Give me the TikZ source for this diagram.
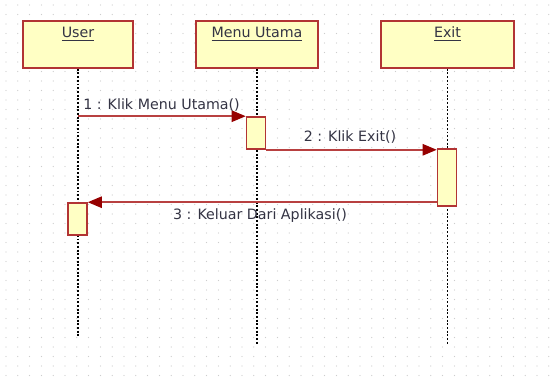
\documentclass[tikz,border=0pt]{standalone}
\usepackage{fontspec}
\setmainfont{DejaVu Sans}
\usepackage{tikz}
\usetikzlibrary{arrows.meta,positioning}

\definecolor{boxfill}{RGB}{255,255,196}
\definecolor{boxline}{RGB}{178,52,52}
\definecolor{msgline}{RGB}{184,64,64}
\definecolor{msghead}{RGB}{150,0,0}
\definecolor{txt}{RGB}{52,52,68}
\definecolor{griddot}{RGB}{205,205,205}

\begin{document}
\begin{tikzpicture}[x=0.02cm,y=-0.02cm]
\tikzstyle{every node}+=[inner sep=0pt,text=txt,font=\fontsize{8.1}{10}\selectfont]
\tikzstyle{head}=[draw=boxline,fill=boxfill,line width=0.9pt,minimum width=2.2cm,minimum height=0.94cm]
\tikzstyle{act}=[draw=boxline,fill=boxfill,line width=0.9pt,minimum width=0.38cm]
\tikzstyle{life}=[black,line width=0.9pt,dash pattern=on 1.1pt off 1pt]
\tikzstyle{msg}=[msgline,line width=0.85pt,-{Triangle[length=8pt,width=6.5pt,color=msghead]}]
\useasboundingbox (0,0) rectangle (551,378);
\fill [white] (0,0) rectangle (551,378);
% dotted canvas
\foreach \i in {0,...,46}
  \foreach \j in {0,...,39}
    \fill [griddot] (6+\i*11.8,5+\j*9.5) circle (0.35pt);
% heads
\node [head,label={[anchor=north,yshift=-0.13cm]north:\underline{User}}] (user) at (78,44.5) {};
\node [head,minimum width=2.44cm,label={[anchor=north,yshift=-0.13cm]north:\underline{Menu Utama}}] (menu) at (257,44.5) {};
\node [head,minimum width=2.66cm,label={[anchor=north,yshift=-0.13cm]north:\underline{Exit}}] (exit) at (447.5,44.5) {};
% lifelines
\coordinate (userend) at (78,337);
\coordinate (menuend) at (257,344);
\coordinate (exitend) at (447.5,345);
\draw [life] (user.south) -- (userend);
\draw [life] (menu.south) -- (menuend);
\draw [life] (exit.south) -- (exitend);
% activations
\node [act,minimum height=0.64cm] (act1) at (256,133) {};
\node [act,minimum height=1.14cm] (act2) at (447,177.5) {};
\node [act,minimum height=0.64cm] (act3) at (77.5,219) {};
% messages
\draw [msg] (user |- act1.north west) -- (act1.north west);
\node [anchor=west] (m1) at (83,105) {1 : Klik Menu Utama()};
\draw [msg] (act1.south east) -- (act1.south east -| act2.west);
\node (m2) at (350,137) {2 : Klik Exit()};
\draw [msg] (act2.west |- act3.north) -- (act3.north east);
\node (m3) at (260,216) {3 : Keluar Dari Aplikasi()};
\end{tikzpicture}
\end{document}
